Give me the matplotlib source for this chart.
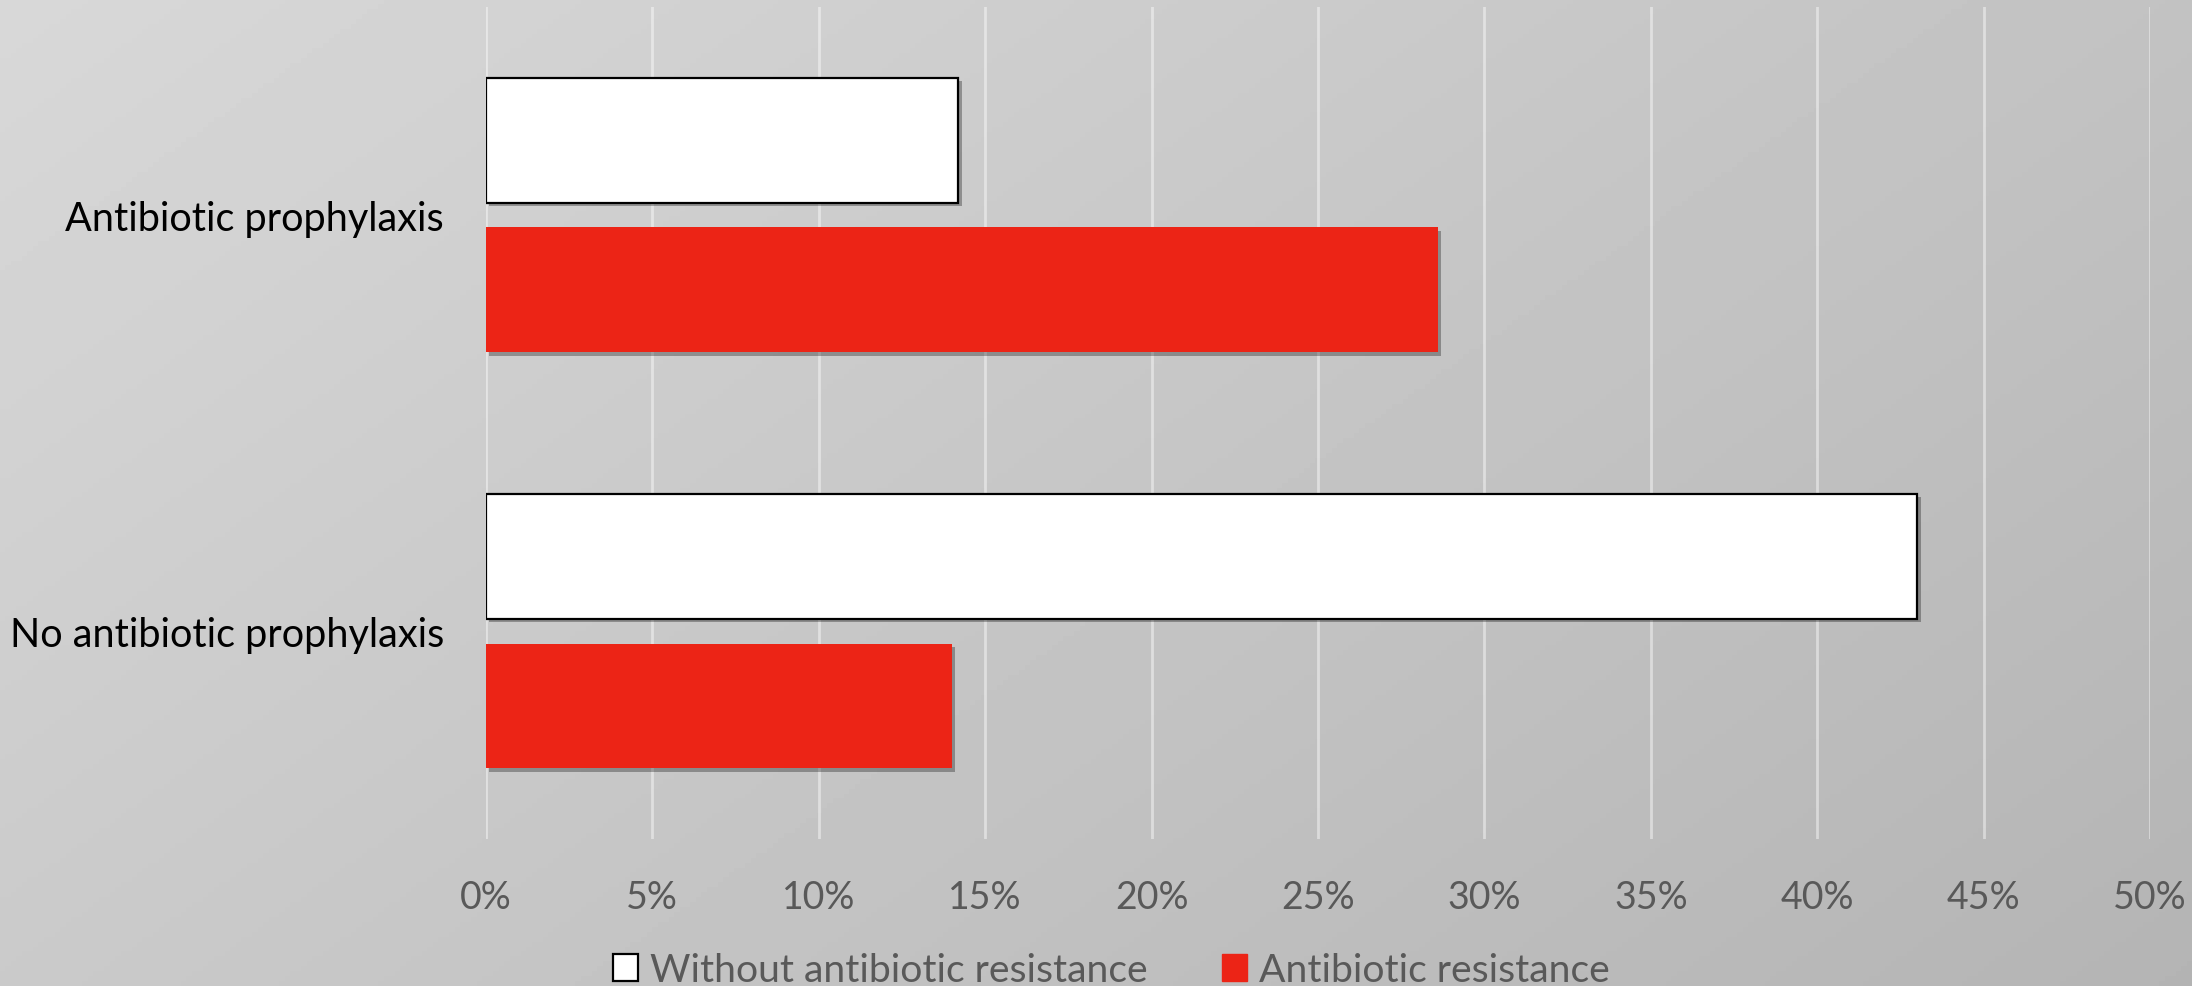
import numpy as np
import matplotlib
matplotlib.use("Agg")
import matplotlib.pyplot as plt
import matplotlib.patheffects as pe
from matplotlib.patches import Patch
from matplotlib.ticker import FuncFormatter

# data (percent)
categories = ["No antibiotic prophylaxis", "Antibiotic prophylaxis"]
without_res = [43.0, 14.2]
with_res = [14.0, 28.6]
series_names = ["Without antibiotic resistance", "Antibiotic resistance"]

red = "#ec2416"
grey_txt = "#595959"

plt.rcParams["font.family"] = ["Lato", "DejaVu Sans"]

fig = plt.figure(figsize=(21.92, 9.87), dpi=100)

# gradient background, light top-left to darker bottom-right
bg = fig.add_axes([0, 0, 1, 1], zorder=-10)
xx, yy = np.meshgrid(np.linspace(0, 1, 400), np.linspace(0, 1, 200))
shade = (216 - 22 * xx - 14 * yy) / 255.0
bg.imshow(shade, cmap="gray", vmin=0, vmax=1, aspect="auto", extent=[0, 1, 1, 0])
bg.axis("off")

ax = fig.add_axes([0.2216, 0.1489, 0.7593, 0.8430])
ax.set_facecolor("none")

y = np.arange(len(categories))
h = 0.3
off = 0.18
shadow = [pe.SimplePatchShadow(offset=(2.5, -2.5), shadow_rgbFace="black", alpha=0.3), pe.Normal()]

b1 = ax.barh(y + off, without_res, height=h, color="white", edgecolor="black", linewidth=1.6, zorder=3)
b2 = ax.barh(y - off, with_res, height=h, color=red, linewidth=0, zorder=3)
for bar in list(b1) + list(b2):
    bar.set_path_effects(shadow)

ax.set_xlim(0, 50)
ax.set_ylim(-0.5, 1.5)
ax.set_xticks(np.arange(0, 51, 5))
ax.xaxis.set_major_formatter(FuncFormatter(lambda v, p: "%d%%" % v))
ax.set_yticks(y)
ax.set_yticklabels(categories)
ax.grid(axis="x", color="white", alpha=0.45, linewidth=2, zorder=0)
ax.set_axisbelow(True)
for s in ax.spines.values():
    s.set_visible(False)
ax.tick_params(axis="x", length=0, pad=29, labelsize=27, labelcolor=grey_txt)
ax.tick_params(axis="y", length=0, pad=30, labelsize=28.5, labelcolor="black")

handles = [Patch(facecolor="white", edgecolor="black", linewidth=1.6),
           Patch(facecolor=red, edgecolor=red)]
fig.legend(handles, series_names, loc="center", bbox_to_anchor=(0.507, 0.016), ncol=2,
           frameon=False, fontsize=28.2, labelcolor=grey_txt, handlelength=0.65, handleheight=0.65,
           handletextpad=0.3, columnspacing=1.9)

fig.savefig("out.png", dpi=100)
